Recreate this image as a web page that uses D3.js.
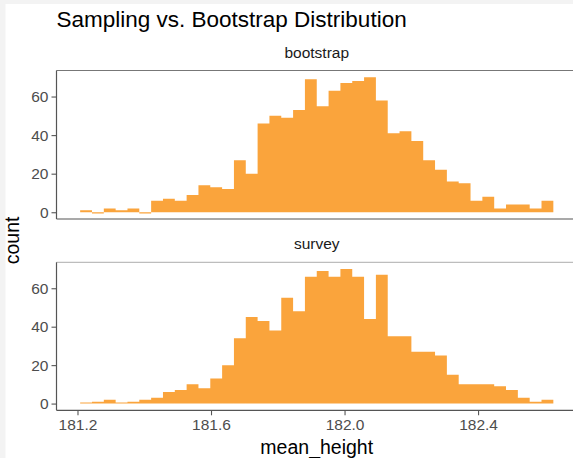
<!DOCTYPE html>
<html>
<head>
<meta charset="utf-8">
<script src="https://cdn.jsdelivr.net/npm/d3@7"></script>
<style>
  html, body { margin: 0; padding: 0; background: #fff; }
  svg { display: block; }
  text { font-family: "Liberation Sans", Arial, Helvetica, sans-serif; }
</style>
</head>
<body>
<script>
// Histogram bins shared by both facets (40 equal-width bins)
const binMin = 181.208;
const binMax = 182.6255;
const binTotal = 40;

// Counts per bin, one array per facet
const facets = ["bootstrap", "survey"];
const bootstrapCounts = [1, -0.7, 2, 1, 2, -0.7, 6, 7, 6, 9, 14, 13, 12, 27, 20, 46, 50, 49, 53, 69,
                         55, 63, 67, 68, 70, 58, 41, 42, 37, 27, 22, 16, 15, 6, 8, 2, 4, 4, 2, 6];
const surveyCounts = [0.5, 1, 2, 0.5, 1, 2, 3, 6, 7, 10, 8, 13, 20, 34, 45, 43, 38, 55, 48, 66,
                      69, 66, 70, 66, 44, 67, 35, 35, 27, 27, 25, 15, 10, 10, 10, 9, 7, 3, 1, 2];

const xTicks = [181.2, 181.6, 182.0, 182.4];
const yTicks = [0, 20, 40, 60];

const titleText = "Sampling vs. Bootstrap Distribution";
const xTitle = "mean_height";
const yTitle = "count";

const W = 573, H = 458;
const svg = d3.select("body").append("svg").attr("width", W).attr("height", H);

// page background with a light frame on the top and left
svg.append("rect").attr("width", W).attr("height", H).attr("fill", "#f3f3f3");
svg.append("rect").attr("x", 5.5).attr("y", 4).attr("width", W).attr("height", H).attr("fill", "#ffffff");

const binWidth = (binMax - binMin) / binTotal;
const countsByFacet = { bootstrap: bootstrapCounts, survey: surveyCounts };

const panelLeft = 56.5, panelRight = 577;
const panels = [
  { name: "bootstrap", top: 70.5, bottom: 219, topLine: "#777777" },
  { name: "survey", top: 262.3, bottom: 410.3, topLine: "#bdbdbd" }
];

const pad = 0.05 * (binMax - binMin);
const x = d3.scaleLinear().domain([binMin - pad, binMax + pad]).range([panelLeft, panelRight]);

const yMax = d3.max([...bootstrapCounts, ...surveyCounts]);
const yPad = 0.05 * yMax;
const barColor = "#faa43c";

panels.forEach((p, pi) => {
  const y = d3.scaleLinear().domain([-yPad, yMax + yPad]).range([p.bottom, p.top]);
  const g = svg.append("g");
  const counts = countsByFacet[p.name];

  // all bars of a facet go into one path so neighbouring bars join without seams
  const bars = d3.path();
  counts.forEach((c, i) => {
    const x0 = x(binMin + i * binWidth);
    const x1 = x(binMin + (i + 1) * binWidth);
    const yTop = y(Math.max(0, c));
    const yBot = y(Math.min(0, c));
    bars.rect(x0, yTop, x1 - x0, yBot - yTop);
  });
  g.append("path").attr("d", bars.toString()).attr("fill", barColor);

  // top edge of the panel
  g.append("line")
    .attr("x1", panelLeft).attr("x2", W)
    .attr("y1", p.top).attr("y2", p.top)
    .attr("stroke", p.topLine).attr("stroke-width", 1.2);

  // y axis
  const yAxis = d3.axisLeft(y).tickValues(yTicks).tickSize(5).tickPadding(3).tickFormat(d3.format("d"));
  const ya = g.append("g").attr("transform", `translate(${panelLeft},0)`).call(yAxis);
  ya.select(".domain").attr("stroke", "#555").attr("stroke-width", 1.2)
    .attr("d", `M0,${p.top}V${p.bottom}`);
  ya.selectAll(".tick line").attr("stroke", "#555").attr("stroke-width", 1.1);
  ya.selectAll(".tick text").attr("fill", "#4d4d4d").style("font-size", "15.5px")
    .style("font-family", "'Liberation Sans', Arial, sans-serif");

  // x axis line (ticks only on the bottom panel)
  if (pi === panels.length - 1) {
    const xAxis = d3.axisBottom(x).tickValues(xTicks).tickSize(5).tickPadding(4).tickFormat(d3.format(".1f"));
    const xa = g.append("g").attr("transform", `translate(0,${p.bottom})`).call(xAxis);
    xa.select(".domain").attr("stroke", "#555").attr("stroke-width", 1.2)
      .attr("d", `M${panelLeft},0H${W}`);
    xa.selectAll(".tick line").attr("stroke", "#555").attr("stroke-width", 1.1);
    xa.selectAll(".tick text").attr("fill", "#4d4d4d").style("font-size", "15.5px")
      .style("font-family", "'Liberation Sans', Arial, sans-serif");
  } else {
    g.append("line")
      .attr("x1", panelLeft).attr("x2", W)
      .attr("y1", p.bottom).attr("y2", p.bottom)
      .attr("stroke", "#555").attr("stroke-width", 1.2);
  }

  // facet label
  svg.append("text")
    .attr("x", (panelLeft + panelRight) / 2)
    .attr("y", p.top - 13)
    .attr("text-anchor", "middle")
    .attr("fill", "#1a1a1a")
    .style("font-size", "15.5px")
    .text(p.name);
});

// titles
svg.append("text").attr("x", 56.5).attr("y", 26.5)
  .style("font-size", "22.5px").attr("fill", "#000").text(titleText);

svg.append("text").attr("x", (panelLeft + panelRight) / 2).attr("y", 453.5)
  .attr("text-anchor", "middle").style("font-size", "19.5px").attr("fill", "#000").text(xTitle);

svg.append("text")
  .attr("transform", `translate(18.5,${(panels[0].top + panels[1].bottom) / 2}) rotate(-90)`)
  .attr("text-anchor", "middle").style("font-size", "19.5px").attr("fill", "#000").text(yTitle);
</script>
</body>
</html>
